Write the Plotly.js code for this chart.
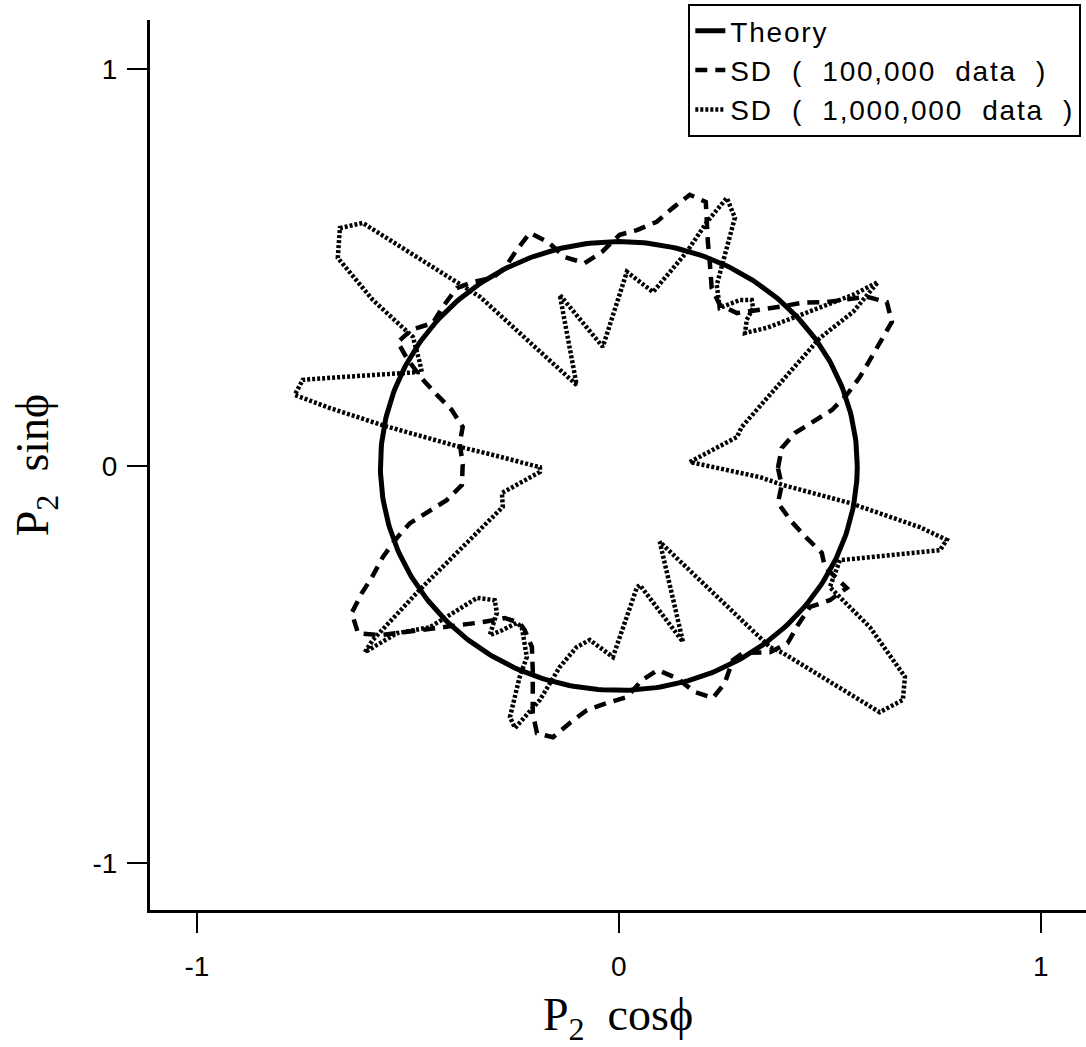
<!DOCTYPE html>
<html>
<head>
<meta charset="utf-8">
<script src="https://cdn.plot.ly/plotly-3.0.1.min.js"></script>
<style>
  html, body { margin: 0; padding: 0; background: #ffffff; }
  #chart { width: 1086px; height: 1047px; }
  /* wider tracking for the legend labels */
  .legendtext { letter-spacing: 1.8px; }
</style>
</head>
<body>
<div id="chart"></div>
<script>
// Theoretical order parameter: a circle of constant P2 in the (P2 cosφ, P2 sinφ) plane
const theoryP2 = 0.565;

// Simulated distribution, 100,000 data: (P2 cosφ, P2 sinφ) pairs around the loop
const sd1e5X = [0.377, 0.386, 0.417, 0.460, 0.505, 0.540, 0.571, 0.595, 0.626, 0.647, 0.635, 0.588,
  0.493, 0.434, 0.382, 0.327, 0.280, 0.239, 0.220, 0.216, 0.211, 0.206, 0.168, 0.128, 0.090, 0.043,
  0.002, -0.040, -0.081, -0.128, -0.168, -0.211, -0.242, -0.270, -0.299, -0.346, -0.384, -0.417,
  -0.441, -0.491, -0.524, -0.500, -0.464, -0.431, -0.396, -0.370, -0.377, -0.370, -0.372, -0.408,
  -0.453, -0.495, -0.526, -0.559, -0.585, -0.609, -0.633, -0.618, -0.566, -0.526, -0.408, -0.370,
  -0.322, -0.270, -0.235, -0.223, -0.206, -0.204, -0.204, -0.204, -0.194, -0.156, -0.116, -0.076,
  -0.028, 0.019, 0.055, 0.092, 0.137, 0.180, 0.223, 0.251, 0.270, 0.294, 0.358, 0.400, 0.424, 0.453,
  0.500, 0.540, 0.488, 0.481, 0.445, 0.410, 0.377, 0.386];
const sd1e5Y = [-0.005, 0.045, 0.083, 0.111, 0.141, 0.179, 0.224, 0.267, 0.322, 0.363, 0.413, 0.426,
  0.413, 0.411, 0.401, 0.393, 0.385, 0.406, 0.448, 0.506, 0.564, 0.665, 0.683, 0.650, 0.615, 0.594,
  0.582, 0.539, 0.511, 0.526, 0.564, 0.587, 0.544, 0.499, 0.474, 0.463, 0.448, 0.401,
  0.360, 0.343, 0.312, 0.267, 0.217, 0.179, 0.141, 0.098, 0.058, 0.003, -0.048, -0.086,
  -0.116, -0.144, -0.181, -0.229, -0.280, -0.320, -0.370, -0.421, -0.426, -0.421, -0.406, -0.401,
  -0.393, -0.383, -0.395, -0.413, -0.456, -0.514, -0.564, -0.622, -0.673, -0.683, -0.647, -0.615,
  -0.597, -0.582, -0.539, -0.514, -0.534, -0.569, -0.584, -0.547, -0.489, -0.471, -0.469, -0.446, -0.401, -0.355,
  -0.338, -0.307, -0.254, -0.219, -0.181, -0.141, -0.093, -0.048];

// Simulated distribution, 1,000,000 data
const sd1e6X = [0.168, 0.280, 0.291, 0.476, 0.555, 0.614, 0.555, 0.476, 0.412, 0.351, 0.299, 0.303,
  0.318, 0.315, 0.287, 0.239, 0.232, 0.246, 0.275, 0.256, 0.209, 0.161, 0.081, 0.019, -0.038,
  -0.140, -0.100, -0.329, -0.607, -0.661, -0.666, -0.583, -0.488, -0.472, -0.467, -0.685, -0.749,
  -0.768, -0.685, -0.555, -0.377, -0.306, -0.187, -0.187, -0.277, -0.275, -0.472, -0.583, -0.602,
  -0.526, -0.448, -0.393, -0.336, -0.294, -0.289, -0.306, -0.275, -0.242, -0.230, -0.218, -0.235,
  -0.258, -0.246, -0.187, -0.140, -0.100, -0.069, -0.014, 0.043, 0.050, 0.152, 0.097, 0.358, 0.389,
  0.618, 0.673, 0.678, 0.595, 0.500, 0.524, 0.713, 0.761, 0.777, 0.713, 0.547, 0.389, 0.334];
const sd1e6Y = [0.010, 0.073, 0.098, 0.322, 0.388, 0.463, 0.431, 0.398, 0.373, 0.348, 0.335, 0.368,
  0.398, 0.418, 0.418, 0.398, 0.456, 0.514, 0.625, 0.675, 0.615, 0.539, 0.438, 0.489, 0.300,
  0.431, 0.204, 0.426, 0.612, 0.599, 0.524, 0.418, 0.325, 0.262, 0.237, 0.222, 0.217,
  0.179, 0.146, 0.101, 0.048, 0.030, -0.003, -0.015, -0.068, -0.103, -0.312, -0.438, -0.469,
  -0.421, -0.406, -0.370, -0.332, -0.338, -0.370, -0.426, -0.413, -0.395, -0.406, -0.481, -0.531,
  -0.632, -0.660, -0.589, -0.506, -0.456, -0.438, -0.481, -0.305, -0.300, -0.443, -0.191, -0.456, -0.471,
  -0.620, -0.589, -0.531, -0.406, -0.305, -0.237, -0.219, -0.212, -0.186, -0.154, -0.093, -0.048, -0.028];

// Axis ticks
const tickVals = [-1, 0, 1];
const tickText = ['-1', '0', '1'];

// Legend entries (non-breaking spaces keep the wide word gaps)
const NB = '\u00a0';
const seriesNames = [
  'Theory',
  'SD' + NB + ' (' + NB + ' 100,000' + NB + ' data' + NB + ' )',
  'SD' + NB + ' (' + NB + ' 1,000,000' + NB + ' data' + NB + ' )'
];

// Close a loop by repeating its first point
function closed(arr) { return arr.concat([arr[0]]); }

const phiDeg = Array.from({ length: 361 }, (_, i) => i);
const theoryX = phiDeg.map(d => theoryP2 * Math.cos(d * Math.PI / 180));
const theoryY = phiDeg.map(d => theoryP2 * Math.sin(d * Math.PI / 180));

const traces = [
  {
    x: theoryX, y: theoryY, type: 'scatter', mode: 'lines', name: seriesNames[0],
    line: { color: '#000', width: 5 }
  },
  {
    x: closed(sd1e5X), y: closed(sd1e5Y), type: 'scatter', mode: 'lines',
    name: seriesNames[1],
    line: { color: '#000', width: 4.5, dash: '12px,8px' }
  },
  {
    x: closed(sd1e6X), y: closed(sd1e6Y), type: 'scatter', mode: 'lines',
    name: seriesNames[2],
    line: { color: '#000', width: 4.5, dash: '3px,2px' }
  }
];

const axisCommon = {
  showgrid: false, zeroline: false,
  showline: true, linecolor: '#000', linewidth: 3,
  ticks: 'outside', ticklen: 20, tickwidth: 2.5, tickcolor: '#000',
  tickmode: 'array', tickvals: tickVals, ticktext: tickText,
  tickfont: { family: 'Liberation Sans, Arial, sans-serif', size: 28, color: '#000' },
  automargin: false
};

const titleFont = { family: 'Liberation Serif, Times New Roman, serif', size: 46, color: '#000' };

const layout = {
  width: 1086, height: 1047,
  paper_bgcolor: '#fff', plot_bgcolor: '#fff',
  margin: { l: 150, r: 0, t: 20, b: 137 },
  showlegend: true,
  xaxis: Object.assign({}, axisCommon, {
    range: [-1.111, 1.107],
    ticklabelstandoff: 9,
    title: { text: 'P<sub>2</sub>' + NB + ' cosϕ', standoff: 20, font: titleFont }
  }),
  yaxis: Object.assign({}, axisCommon, {
    range: [-1.118, 1.123],
    ticklabelstandoff: 4,
    title: { text: 'P<sub>2</sub>' + NB + ' sinϕ', standoff: 30, font: titleFont }
  }),
  legend: {
    x: 0.995, xanchor: 'right', y: 1.018, yanchor: 'top',
    bgcolor: '#fff', bordercolor: '#000', borderwidth: 2,
    font: { family: 'Liberation Sans, Arial, sans-serif', size: 28, color: '#000' },
    tracegroupgap: 0
  }
};

Plotly.newPlot('chart', traces, layout, { displayModeBar: false, staticPlot: true });
</script>
</body>
</html>
